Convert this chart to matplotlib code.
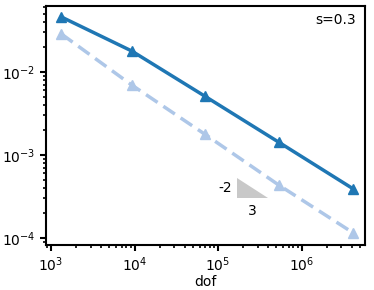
import matplotlib
matplotlib.use("Agg")
import matplotlib.pyplot as plt
import numpy as np

dof = [1331, 9261, 68921, 531441, 4173281]
err_solid = [0.046, 0.0179, 0.00514, 0.00143, 0.00039]
err_dashed = [0.0287, 0.00697, 0.00179, 0.000436, 0.000115]
tri_x = [1.69e5, 3.98e5]
tri_y = [5.28e-4, 3.03e-4]
slope_rise = "-2"
slope_run = "3"
title_text = "s=0.3"

fig = plt.figure(figsize=(3.74, 2.9), dpi=100)
ax = fig.add_axes([46/374, 45/290, 319/374, 239/290])
ax.loglog(dof, err_solid, '-', color='#1f77b4', lw=2.5, marker='^', ms=7)
ax.loglog(dof, err_dashed, '--', color='#aec7e8', lw=2.5, marker='^', ms=7, dashes=(4, 2))

ax.fill([tri_x[0], tri_x[0], tri_x[1]], [tri_y[0], tri_y[1], tri_y[1]], color='#c8c8c8', lw=0)
ax.text(tri_x[0] * 0.88, np.sqrt(tri_y[0] * tri_y[1]), slope_rise, ha='right', va='center', fontsize=10)
ax.text(np.sqrt(tri_x[0] * tri_x[1]), tri_y[1] * 0.85, slope_run, ha='center', va='top', fontsize=10)

ax.text(0.97, 0.97, title_text, transform=ax.transAxes, ha='right', va='top', fontsize=10)

ax.set_xlim(10**2.94, 10**6.76)
ax.set_ylim(10**-4.084, 10**-1.205)
ax.set_xlabel('dof', fontsize=10, labelpad=1)
for s in ax.spines.values():
    s.set_linewidth(1.5)
ax.tick_params(which='major', width=1.5, length=4, labelsize=10)
ax.tick_params(which='minor', width=1.2, length=2.5)
fig.savefig('out.png', dpi=100)
